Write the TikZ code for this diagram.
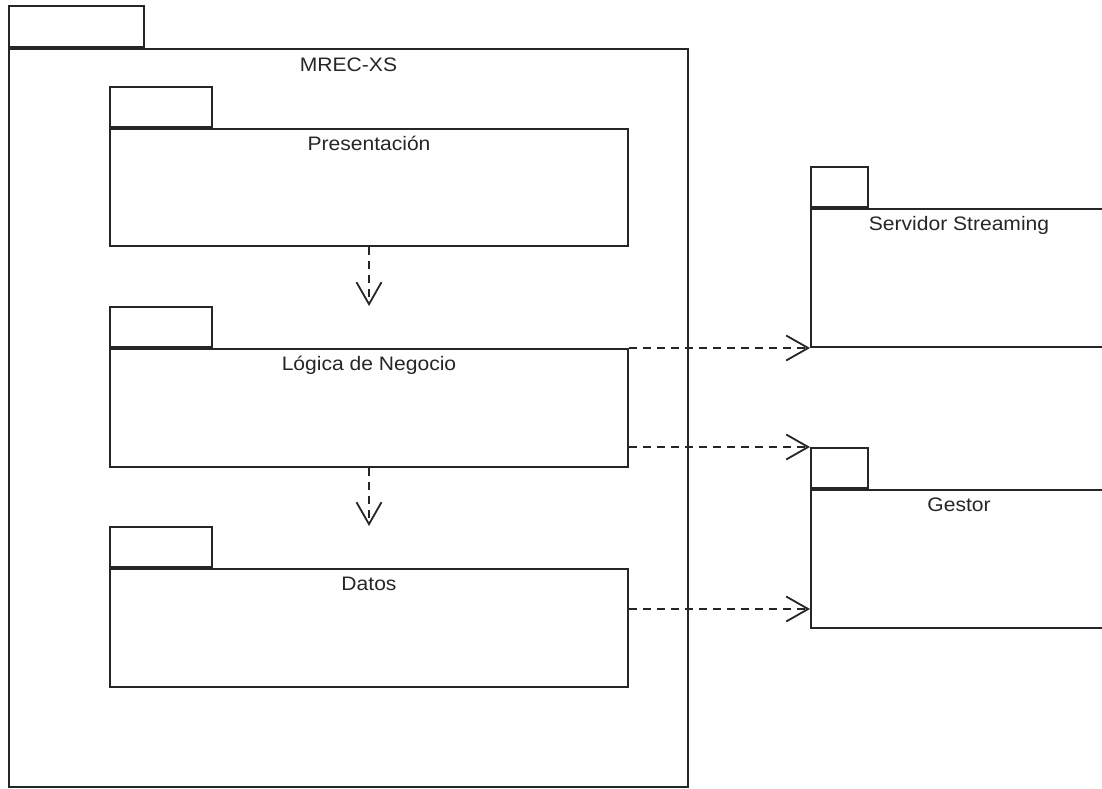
\documentclass[tikz,border=0pt]{standalone}
\usepackage{fontspec}
\newfontfamily\umlfont[FakeStretch=1.08]{Liberation Sans}
\usetikzlibrary{positioning,calc,arrows.meta}

\begin{document}
\begin{tikzpicture}[x=1pt,y=-1pt,
	pkgbody/.style={draw=black!85,line width=2pt,anchor=north west,inner sep=0pt,fill=white},
	pkgtab/.style={draw=black!85,line width=2pt,anchor=south west,inner sep=0pt,minimum height=40pt},
	pkgname/.style={anchor=base,inner sep=0pt,text=black!85,font=\umlfont\fontsize{19.5}{23}\selectfont},
	dep/.style={draw=black!85,line width=1.8pt,dash pattern=on 8pt off 6pt,-{Straight Barb[length=22pt,width=25pt,line width=1.8pt]}}]
	\useasboundingbox[fill=white] (0,0) rectangle (1102,788);
	% outer package
	\node[pkgbody,minimum width=679pt,minimum height=738pt] (mrec) at (8,48) {};
	\node[pkgtab,minimum width=135pt,minimum height=41pt] (mrecTab) at (mrec.north west) {};
	\node[pkgname] (mrecL) at ([yshift=-23pt]mrec.north) {MREC-XS};
	% layers
	\node[pkgbody,minimum width=518pt,minimum height=117pt] (pres) at (109,128) {};
	\node[pkgtab,minimum width=102pt] (presTab) at (pres.north west) {};
	\node[pkgname] (presL) at ([yshift=-22pt]pres.north) {Presentación};
	\node[pkgbody,minimum width=518pt,minimum height=118pt] (logic) at (109,348) {};
	\node[pkgtab,minimum width=102pt] (logicTab) at (logic.north west) {};
	\node[pkgname] (logicL) at ([yshift=-22pt]logic.north) {Lógica de Negocio};
	\node[pkgbody,minimum width=518pt,minimum height=118pt] (datos) at (109,568) {};
	\node[pkgtab,minimum width=102pt] (datosTab) at (datos.north west) {};
	\node[pkgname] (datosL) at ([yshift=-22pt]datos.north) {Datos};
	% external packages
	\node[pkgbody,minimum width=296pt,minimum height=138pt] (stream) at (810,208) {};
	\node[pkgtab,minimum width=57pt] (streamTab) at (stream.north west) {};
	\node[pkgname] (streamL) at ([yshift=-22pt]stream.north) {Servidor Streaming};
	\node[pkgbody,minimum width=296pt,minimum height=138pt] (gestor) at (810,489) {};
	\node[pkgtab,minimum width=57pt] (gestorTab) at (gestor.north west) {};
	\node[pkgname] (gestorL) at ([yshift=-22pt]gestor.north) {Gestor};
	% dependencies
	\coordinate (datosOut) at ([yshift=-41pt]datos.north east);
	\path[dep]
		(pres.south) -- (pres.south |- logicTab.north);
	\path[dep]
		(logic.south) -- (logic.south |- datosTab.north);
	\path[dep]
		(logic.north east) -- (stream.south west);
	\path[dep]
		(logic.east |- gestorTab.north west) -- (gestorTab.north west);
	\path[dep]
		(datosOut) -- (gestor.west |- datosOut);
\end{tikzpicture}
\end{document}
